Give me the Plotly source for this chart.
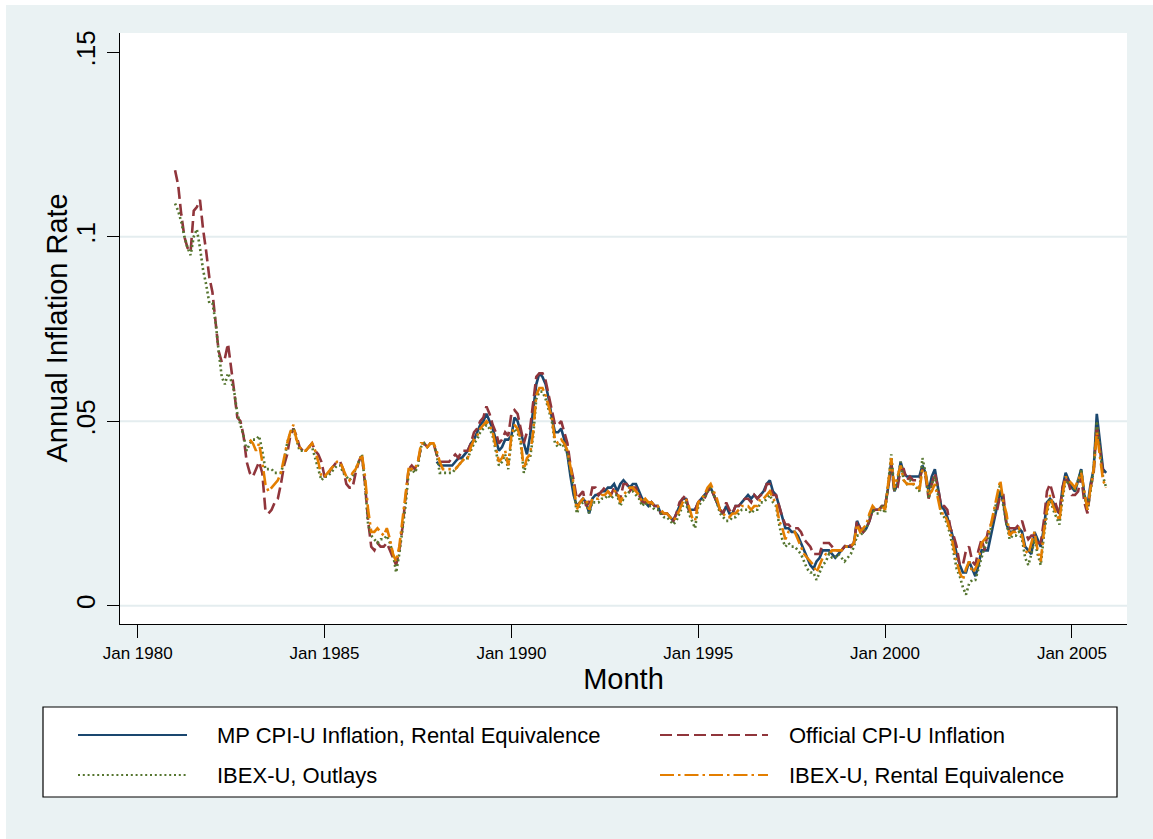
import plotly.graph_objects as go

# Annual inflation rates (fractions), one value per month.
# Month positions are counted from Jan 1980 (= 0); each list runs to Dec 2005.
official_start = 12   # Jan 1981
official_cpi = [
    0.118, 0.114, 0.106, 0.100, 0.097, 0.096, 0.107, 0.108, 0.110, 0.102, 0.096, 0.089,  # 1981
    0.085, 0.077, 0.069, 0.066, 0.067, 0.071, 0.065, 0.058, 0.051, 0.050, 0.046, 0.039,  # 1982
    0.036, 0.035, 0.037, 0.039, 0.036, 0.026, 0.025, 0.026, 0.028, 0.029, 0.033, 0.038,  # 1983
    0.041, 0.046, 0.048, 0.046, 0.043, 0.042, 0.042, 0.043, 0.044, 0.042, 0.041, 0.039,  # 1984
    0.035, 0.035, 0.037, 0.038, 0.039, 0.039, 0.037, 0.033, 0.032, 0.032, 0.036, 0.039,  # 1985
    0.041, 0.033, 0.023, 0.016, 0.015, 0.017, 0.016, 0.016, 0.017, 0.015, 0.013, 0.011,  # 1986
    0.015, 0.021, 0.029, 0.037, 0.038, 0.037, 0.039, 0.043, 0.044, 0.043, 0.044, 0.044,  # 1987
    0.041, 0.039, 0.039, 0.039, 0.039, 0.040, 0.041, 0.040, 0.042, 0.042, 0.042, 0.044,  # 1988
    0.047, 0.048, 0.050, 0.051, 0.054, 0.052, 0.049, 0.047, 0.044, 0.045, 0.047, 0.046,  # 1989
    0.052, 0.053, 0.052, 0.048, 0.044, 0.047, 0.048, 0.055, 0.062, 0.063, 0.063, 0.061,  # 1990
    0.057, 0.053, 0.049, 0.049, 0.050, 0.047, 0.044, 0.038, 0.034, 0.029, 0.030, 0.031,  # 1991
    0.027, 0.028, 0.032, 0.032, 0.030, 0.031, 0.032, 0.031, 0.030, 0.032, 0.030, 0.029,  # 1992
    0.033, 0.033, 0.031, 0.032, 0.032, 0.030, 0.028, 0.028, 0.027, 0.028, 0.027, 0.027,  # 1993
    0.025, 0.025, 0.025, 0.024, 0.023, 0.025, 0.028, 0.029, 0.030, 0.026, 0.026, 0.026,  # 1994
    0.028, 0.029, 0.029, 0.031, 0.032, 0.030, 0.028, 0.026, 0.025, 0.028, 0.026, 0.025,  # 1995
    0.027, 0.027, 0.028, 0.029, 0.029, 0.028, 0.030, 0.029, 0.030, 0.030, 0.033, 0.033,  # 1996
    0.030, 0.030, 0.027, 0.024, 0.022, 0.022, 0.021, 0.021, 0.021, 0.020, 0.018, 0.017,  # 1997
    0.016, 0.014, 0.014, 0.014, 0.017, 0.017, 0.017, 0.016, 0.015, 0.015, 0.015, 0.016,  # 1998
    0.017, 0.016, 0.017, 0.023, 0.021, 0.020, 0.021, 0.023, 0.026, 0.026, 0.026, 0.027,  # 1999
    0.027, 0.032, 0.038, 0.031, 0.032, 0.037, 0.037, 0.034, 0.035, 0.034, 0.034, 0.034,  # 2000
    0.037, 0.035, 0.029, 0.033, 0.036, 0.032, 0.027, 0.027, 0.026, 0.021, 0.019, 0.016,  # 2001
    0.011, 0.011, 0.015, 0.016, 0.012, 0.011, 0.015, 0.018, 0.015, 0.020, 0.022, 0.024,  # 2002
    0.026, 0.030, 0.030, 0.022, 0.021, 0.021, 0.021, 0.022, 0.023, 0.020, 0.018, 0.019,  # 2003
    0.019, 0.017, 0.017, 0.023, 0.031, 0.033, 0.030, 0.027, 0.025, 0.032, 0.035, 0.033,  # 2004
    0.030, 0.030, 0.031, 0.035, 0.028, 0.025, 0.032, 0.036, 0.049, 0.043, 0.036, 0.035,  # 2005
]

mp_start = 96   # Jan 1988
mp_cpi_rental = [
    0.039, 0.038, 0.038, 0.038, 0.038, 0.038, 0.039, 0.040, 0.040, 0.041, 0.042, 0.044,  # 1988
    0.045, 0.047, 0.049, 0.050, 0.052, 0.050, 0.048, 0.045, 0.042, 0.043, 0.045, 0.045,  # 1989
    0.046, 0.051, 0.050, 0.047, 0.044, 0.041, 0.046, 0.053, 0.060, 0.063, 0.062, 0.060,  # 1990
    0.056, 0.051, 0.047, 0.047, 0.048, 0.045, 0.041, 0.035, 0.030, 0.027, 0.028, 0.029,  # 1991
    0.028, 0.025, 0.029, 0.030, 0.030, 0.031, 0.031, 0.032, 0.032, 0.033, 0.031, 0.033,  # 1992
    0.034, 0.033, 0.032, 0.033, 0.033, 0.031, 0.029, 0.028, 0.027, 0.028, 0.027, 0.027,  # 1993
    0.025, 0.025, 0.025, 0.024, 0.023, 0.025, 0.027, 0.029, 0.029, 0.026, 0.026, 0.026,  # 1994
    0.028, 0.029, 0.030, 0.031, 0.032, 0.030, 0.028, 0.026, 0.025, 0.027, 0.025, 0.025,  # 1995
    0.027, 0.027, 0.028, 0.029, 0.030, 0.029, 0.030, 0.029, 0.030, 0.031, 0.033, 0.034,  # 1996
    0.031, 0.030, 0.027, 0.024, 0.021, 0.021, 0.020, 0.020, 0.019, 0.017, 0.015, 0.013,  # 1997
    0.011, 0.010, 0.012, 0.013, 0.015, 0.015, 0.015, 0.014, 0.013, 0.014, 0.015, 0.016,  # 1998
    0.016, 0.016, 0.017, 0.023, 0.021, 0.020, 0.021, 0.023, 0.026, 0.026, 0.026, 0.027,  # 1999
    0.027, 0.032, 0.039, 0.031, 0.033, 0.039, 0.036, 0.035, 0.035, 0.035, 0.035, 0.035,  # 2000
    0.038, 0.036, 0.031, 0.035, 0.037, 0.032, 0.027, 0.026, 0.024, 0.021, 0.018, 0.014,  # 2001
    0.011, 0.009, 0.009, 0.012, 0.010, 0.008, 0.011, 0.015, 0.015, 0.015, 0.019, 0.023,  # 2002
    0.027, 0.031, 0.028, 0.022, 0.020, 0.020, 0.021, 0.021, 0.020, 0.016, 0.015, 0.014,  # 2003
    0.020, 0.018, 0.016, 0.021, 0.028, 0.029, 0.028, 0.026, 0.025, 0.032, 0.036, 0.034,  # 2004
    0.032, 0.031, 0.034, 0.037, 0.030, 0.027, 0.033, 0.037, 0.052, 0.045, 0.037, 0.036,  # 2005
]

ibex_outlays_start = 12   # Jan 1981
ibex_outlays = [
    0.109, 0.107, 0.104, 0.100, 0.097, 0.095, 0.100, 0.102, 0.097, 0.091, 0.087, 0.082,  # 1981
    0.082, 0.077, 0.069, 0.062, 0.060, 0.063, 0.061, 0.058, 0.052, 0.049, 0.046, 0.042,  # 1982
    0.044, 0.045, 0.045, 0.046, 0.042, 0.037, 0.037, 0.037, 0.036, 0.036, 0.036, 0.039,  # 1983
    0.044, 0.047, 0.048, 0.045, 0.042, 0.042, 0.042, 0.043, 0.043, 0.040, 0.037, 0.034,  # 1984
    0.035, 0.035, 0.036, 0.037, 0.038, 0.038, 0.036, 0.035, 0.034, 0.035, 0.037, 0.039,  # 1985
    0.041, 0.033, 0.022, 0.019, 0.018, 0.017, 0.018, 0.018, 0.019, 0.017, 0.014, 0.009,  # 1986
    0.014, 0.020, 0.027, 0.036, 0.037, 0.036, 0.038, 0.043, 0.044, 0.043, 0.044, 0.044,  # 1987
    0.041, 0.036, 0.036, 0.036, 0.036, 0.036, 0.037, 0.038, 0.039, 0.040, 0.040, 0.042,  # 1988
    0.044, 0.045, 0.047, 0.048, 0.049, 0.048, 0.046, 0.042, 0.038, 0.039, 0.041, 0.037,  # 1989
    0.045, 0.048, 0.047, 0.044, 0.036, 0.039, 0.040, 0.046, 0.056, 0.058, 0.058, 0.056,  # 1990
    0.053, 0.050, 0.044, 0.043, 0.044, 0.043, 0.041, 0.037, 0.032, 0.025, 0.027, 0.028,  # 1991
    0.028, 0.025, 0.028, 0.028, 0.028, 0.029, 0.029, 0.030, 0.029, 0.030, 0.030, 0.027,  # 1992
    0.029, 0.030, 0.031, 0.031, 0.030, 0.029, 0.027, 0.028, 0.027, 0.027, 0.026, 0.026,  # 1993
    0.025, 0.024, 0.024, 0.023, 0.022, 0.023, 0.025, 0.027, 0.028, 0.025, 0.023, 0.021,  # 1994
    0.027, 0.028, 0.029, 0.031, 0.032, 0.030, 0.028, 0.025, 0.024, 0.023, 0.023, 0.024,  # 1995
    0.024, 0.025, 0.026, 0.026, 0.026, 0.025, 0.026, 0.026, 0.028, 0.028, 0.029, 0.030,  # 1996
    0.028, 0.027, 0.022, 0.018, 0.016, 0.017, 0.016, 0.016, 0.015, 0.014, 0.012, 0.010,  # 1997
    0.009, 0.009, 0.007, 0.009, 0.011, 0.012, 0.014, 0.013, 0.013, 0.014, 0.013, 0.012,  # 1998
    0.013, 0.014, 0.016, 0.019, 0.019, 0.020, 0.021, 0.024, 0.026, 0.025, 0.025, 0.027,  # 1999
    0.025, 0.033, 0.041, 0.031, 0.034, 0.039, 0.034, 0.033, 0.034, 0.033, 0.032, 0.031,  # 2000
    0.040, 0.036, 0.029, 0.033, 0.035, 0.030, 0.025, 0.024, 0.022, 0.019, 0.014, 0.010,  # 2001
    0.008, 0.005, 0.003, 0.006, 0.007, 0.007, 0.010, 0.013, 0.016, 0.018, 0.021, 0.025,  # 2002
    0.029, 0.033, 0.027, 0.022, 0.018, 0.019, 0.019, 0.020, 0.018, 0.013, 0.011, 0.014,  # 2003
    0.018, 0.014, 0.011, 0.019, 0.025, 0.029, 0.026, 0.024, 0.022, 0.029, 0.034, 0.033,  # 2004
    0.033, 0.031, 0.034, 0.037, 0.030, 0.026, 0.031, 0.037, 0.050, 0.043, 0.035, 0.032,  # 2005
]

ibex_rental_start = 36   # Jan 1983
ibex_rental = [
    0.045, 0.044, 0.042, 0.044, 0.039, 0.033, 0.031, 0.032, 0.033, 0.034, 0.036, 0.040,  # 1983
    0.044, 0.047, 0.049, 0.045, 0.043, 0.042, 0.042, 0.043, 0.044, 0.042, 0.039, 0.035,  # 1984
    0.035, 0.036, 0.037, 0.038, 0.039, 0.039, 0.037, 0.035, 0.034, 0.036, 0.037, 0.039,  # 1985
    0.041, 0.035, 0.026, 0.020, 0.020, 0.021, 0.020, 0.019, 0.021, 0.018, 0.014, 0.012,  # 1986
    0.016, 0.023, 0.030, 0.037, 0.037, 0.037, 0.039, 0.044, 0.044, 0.043, 0.044, 0.044,  # 1987
    0.042, 0.039, 0.037, 0.037, 0.037, 0.037, 0.037, 0.038, 0.039, 0.040, 0.040, 0.043,  # 1988
    0.045, 0.046, 0.048, 0.049, 0.050, 0.049, 0.047, 0.043, 0.039, 0.040, 0.042, 0.038,  # 1989
    0.046, 0.049, 0.048, 0.045, 0.037, 0.040, 0.041, 0.047, 0.057, 0.059, 0.059, 0.057,  # 1990
    0.054, 0.051, 0.045, 0.044, 0.045, 0.044, 0.042, 0.038, 0.033, 0.026, 0.028, 0.029,  # 1991
    0.029, 0.026, 0.029, 0.029, 0.029, 0.030, 0.030, 0.031, 0.030, 0.031, 0.031, 0.028,  # 1992
    0.030, 0.031, 0.032, 0.032, 0.031, 0.030, 0.028, 0.029, 0.028, 0.028, 0.027, 0.027,  # 1993
    0.026, 0.025, 0.025, 0.024, 0.023, 0.024, 0.026, 0.028, 0.029, 0.027, 0.024, 0.023,  # 1994
    0.028, 0.029, 0.030, 0.032, 0.033, 0.031, 0.029, 0.026, 0.025, 0.024, 0.024, 0.025,  # 1995
    0.025, 0.026, 0.027, 0.027, 0.027, 0.026, 0.027, 0.027, 0.029, 0.029, 0.030, 0.031,  # 1996
    0.029, 0.028, 0.023, 0.021, 0.018, 0.020, 0.020, 0.020, 0.018, 0.016, 0.014, 0.013,  # 1997
    0.012, 0.011, 0.009, 0.011, 0.013, 0.014, 0.014, 0.015, 0.015, 0.015, 0.015, 0.016,  # 1998
    0.016, 0.016, 0.017, 0.022, 0.020, 0.021, 0.022, 0.025, 0.027, 0.026, 0.026, 0.027,  # 1999
    0.026, 0.033, 0.040, 0.032, 0.035, 0.038, 0.034, 0.033, 0.033, 0.033, 0.033, 0.031,  # 2000
    0.037, 0.036, 0.030, 0.031, 0.033, 0.029, 0.025, 0.025, 0.023, 0.020, 0.016, 0.012,  # 2001
    0.009, 0.007, 0.010, 0.012, 0.009, 0.010, 0.012, 0.017, 0.018, 0.019, 0.022, 0.026,  # 2002
    0.030, 0.034, 0.028, 0.025, 0.019, 0.020, 0.020, 0.021, 0.019, 0.015, 0.014, 0.017,  # 2003
    0.020, 0.015, 0.012, 0.020, 0.026, 0.030, 0.027, 0.025, 0.023, 0.030, 0.035, 0.034,  # 2004
    0.033, 0.032, 0.034, 0.036, 0.031, 0.026, 0.032, 0.037, 0.047, 0.040, 0.034, 0.032,  # 2005
]

# Axis ticks
x_tick_months = [0, 60, 120, 180, 240, 300]
x_tick_labels = ["Jan 1980", "Jan 1985", "Jan 1990", "Jan 1995", "Jan 2000", "Jan 2005"]
y_tick_values = [0, 0.05, 0.10, 0.15]
y_tick_labels = ["0", ".05", ".1", ".15"]
y_grid_values = [0, 0.05, 0.10]

series_names = [
    "MP CPI-U Inflation, Rental Equivalence",
    "Official CPI-U Inflation",
    "IBEX-U, Outlays",
    "IBEX-U, Rental Equivalence",
]

# Figure geometry (pixels)
W, H = 1153, 839
PLOT_L, PLOT_R, PLOT_T, PLOT_B = 120, 1127, 33, 624

BG = "#EAF2F3"
FONT = "Arial, Liberation Sans, Helvetica, sans-serif"

styles = [
    dict(color="#1A476F", width=2.6, dash="solid"),
    dict(color="#90353B", width=2.6, dash="12px,5px"),
    dict(color="#55752F", width=2.6, dash="2px,2.8px"),
    dict(color="#E37E00", width=2.6, dash="14px,4px,2.5px,4px"),
]

series = [
    (mp_start, mp_cpi_rental),
    (official_start, official_cpi),
    (ibex_outlays_start, ibex_outlays),
    (ibex_rental_start, ibex_rental),
]


def px_x(px):
    return (px - PLOT_L) / (PLOT_R - PLOT_L)


def px_y(py):
    return (PLOT_B - py) / (PLOT_B - PLOT_T)


fig = go.Figure()
for name, (start, vals), st in zip(series_names, series, styles):
    fig.add_trace(go.Scatter(
        x=[start + i for i in range(len(vals))],
        y=vals,
        mode="lines",
        name=name,
        line=st,
        showlegend=False,
        hoverinfo="skip",
    ))

shapes = []
# white outer edge on the left and top of the graph region
shapes.append(dict(type="rect", xref="paper", yref="paper",
                   x0=px_x(-2), x1=px_x(6), y0=px_y(H + 2), y1=px_y(-2),
                   fillcolor="white", line=dict(width=0), layer="above"))
shapes.append(dict(type="rect", xref="paper", yref="paper",
                   x0=px_x(-2), x1=px_x(W + 2), y0=px_y(5), y1=px_y(-2),
                   fillcolor="white", line=dict(width=0), layer="above"))

# horizontal grid lines
for gv in y_grid_values:
    shapes.append(dict(type="line", xref="paper", yref="y",
                       x0=0, x1=1, y0=gv, y1=gv,
                       line=dict(color="#E4EDEF", width=2), layer="below"))

# legend box
LEG_L, LEG_R, LEG_T, LEG_B = 43, 1117, 707, 797
shapes.append(dict(type="rect", xref="paper", yref="paper",
                   x0=px_x(LEG_L), x1=px_x(LEG_R), y0=px_y(LEG_B), y1=px_y(LEG_T),
                   fillcolor="white", line=dict(color="black", width=1.2), layer="above"))

legend_slots = [
    (78, 187, 215, 735),
    (660, 768, 787, 735),
    (78, 187, 215, 775),
    (660, 768, 787, 775),
]
annotations = []
for name, st, (sx0, sx1, tx, ty) in zip(series_names, styles, legend_slots):
    shapes.append(dict(type="line", xref="paper", yref="paper",
                       x0=px_x(sx0), x1=px_x(sx1), y0=px_y(ty), y1=px_y(ty),
                       line=dict(color=st["color"], width=2.2, dash=st["dash"]),
                       layer="above"))
    annotations.append(dict(text=name, xref="paper", yref="paper",
                            x=px_x(tx), y=px_y(ty), xanchor="left", yanchor="middle",
                            showarrow=False,
                            font=dict(family=FONT, size=22, color="black")))

# y-axis title, set vertically beside the tick labels
annotations.append(dict(text="Annual Inflation Rate", xref="paper", yref="paper",
                        x=px_x(56), y=0.5, xanchor="center", yanchor="middle",
                        textangle=-90, showarrow=False,
                        font=dict(family=FONT, size=29, color="black")))

fig.update_layout(
    width=W, height=H, autosize=False,
    margin=dict(l=PLOT_L, r=W - PLOT_R, t=PLOT_T, b=H - PLOT_B, pad=0),
    paper_bgcolor=BG,
    plot_bgcolor="white",
    font=dict(family=FONT, color="black"),
    shapes=shapes,
    annotations=annotations,
    showlegend=False,
    xaxis=dict(
        range=[-5.68, 317.7],
        tickmode="array", tickvals=x_tick_months, ticktext=x_tick_labels,
        ticks="outside", ticklen=13, tickwidth=1.2, tickcolor="black",
        tickfont=dict(size=17, family=FONT),
        ticklabelstandoff=0,
        showline=True, linecolor="black", linewidth=1.3,
        showgrid=False, zeroline=False,
        title=dict(text="Month", font=dict(size=29, family=FONT), standoff=2),
    ),
    yaxis=dict(
        range=[-0.00496, 0.1552],
        tickmode="array", tickvals=y_tick_values, ticktext=y_tick_labels,
        tickangle=-90,
        ticks="outside", ticklen=12, tickwidth=1.2, tickcolor="black",
        tickfont=dict(size=26, family=FONT),
        ticklabelstandoff=1,
        showline=True, linecolor="black", linewidth=1.3,
        showgrid=False, zeroline=False,
    ),
)

fig.write_html("out.html")
